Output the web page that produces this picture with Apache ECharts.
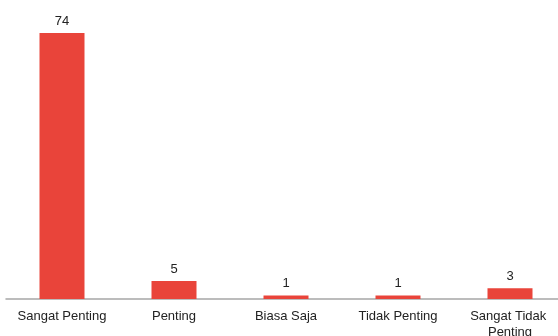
<!DOCTYPE html>
<html><head><meta charset="utf-8">
<script src="https://cdn.jsdelivr.net/npm/echarts@6/dist/echarts.min.js"></script>
<style>html,body{margin:0;padding:0;background:#fff}#c{width:558px;height:336px}</style>
</head><body><div id="c"></div>
<script>
var categories = ["Sangat Penting", "Penting", "Biasa Saja", "Tidak Penting", "Sangat Tidak Penting"];
var values = [74, 5, 1, 1, 3];
var chart = echarts.init(document.getElementById('c'), null, {renderer: 'canvas'});
chart.setOption({
  animation: false,
  grid: {left: 6, top: 33, right: -8, height: 266, containLabel: false, outerBoundsMode: 'none'},
  xAxis: {
    type: 'category', data: categories,
    axisLine: {lineStyle: {color: '#a6a6a6', width: 1.5}},
    axisTick: {show: false},
    axisLabel: {color: '#222', fontFamily: 'Liberation Sans, Arial', fontSize: 13, margin: 9, width: 105, overflow: 'break', lineHeight: 16, interval: 0}
  },
  yAxis: {type: 'value', min: 0, max: 74, show: false, splitLine: {show: false}},
  series: [{
    type: 'bar', data: values, barWidth: 45,
    itemStyle: {color: '#E9443A'},
    label: {show: true, position: 'top', distance: 5, color: '#222', fontFamily: 'Liberation Sans, Arial', fontSize: 13}
  }]
});
</script></body></html>
